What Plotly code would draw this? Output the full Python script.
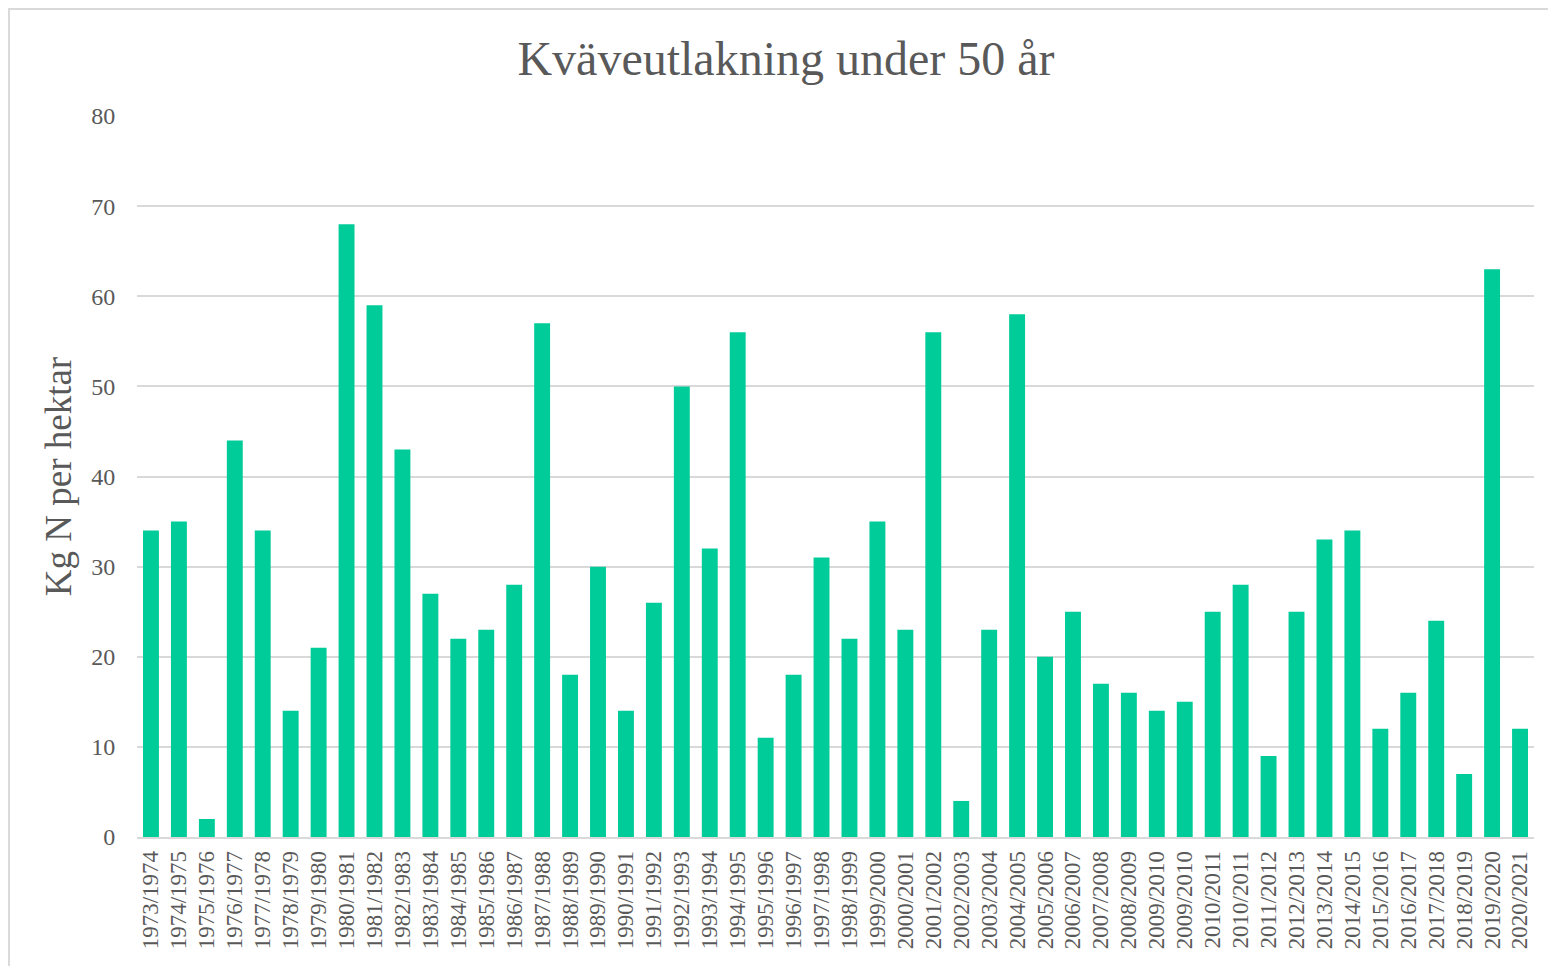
import plotly.graph_objects as go

labels = ["1973/1974","1974/1975","1975/1976","1976/1977","1977/1978","1978/1979","1979/1980",
          "1980/1981","1981/1982","1982/1983","1983/1984","1984/1985","1985/1986","1986/1987",
          "1987/1988","1988/1989","1989/1990","1990/1991","1991/1992","1992/1993","1993/1994",
          "1994/1995","1995/1996","1996/1997","1997/1998","1998/1999","1999/2000","2000/2001",
          "2001/2002","2002/2003","2003/2004","2004/2005","2005/2006","2006/2007","2007/2008",
          "2008/2009","2009/2010","2009/2010","2010/2011","2010/2011","2011/2012","2012/2013",
          "2013/2014","2014/2015","2015/2016","2016/2017","2017/2018","2018/2019","2019/2020",
          "2020/2021"]
values = [34, 35, 2, 44, 34, 14, 21, 68, 59, 43, 27, 22, 23, 28, 57, 18, 30, 14, 26, 50,
          32, 56, 11, 18, 31, 22, 35, 23, 56, 4, 23, 58, 20, 25, 17, 16, 14, 15, 25, 28,
          9, 25, 33, 34, 12, 16, 24, 7, 63, 12]
y_ticks = [0, 10, 20, 30, 40, 50, 60, 70, 80]

positions = list(range(len(labels)))
font = "Liberation Serif, Times New Roman, serif"
grey = "#595959"

fig = go.Figure(go.Bar(x=positions, y=values, marker=dict(color="#00CC99", line=dict(width=0)),
                       hovertext=labels))

fig.update_layout(
    width=1556, height=966,
    paper_bgcolor="white", plot_bgcolor="white",
    margin=dict(l=129, r=30, t=108, b=137),
    bargap=0.43,
    showlegend=False,
    title=dict(text="Kväveutlakning under 50 år", x=0.5, xanchor="center", y=0.948, yanchor="middle",
               font=dict(family=font, size=48, color=grey)),
    font=dict(family=font, color=grey),
    xaxis=dict(tickmode="array", tickvals=positions, ticktext=labels, tickangle=-90,
               tickfont=dict(family=font, size=23, color=grey),
               range=[-0.5, len(labels) - 0.5],
               showline=True, linecolor="#D9D9D9", linewidth=1.5,
               showgrid=False, ticks="outside", ticklen=3, tickcolor="white"),
    yaxis=dict(range=[0, 80], tickvals=y_ticks, showgrid=True, gridcolor="#D9D9D9", gridwidth=1.5,
               tickfont=dict(family=font, size=24, color=grey), zeroline=False,
               ticks="outside", ticklen=16, tickcolor="white",
               title=dict(text="Kg N per hektar", font=dict(family=font, size=37, color=grey), standoff=8)),
    shapes=[dict(type="rect", xref="paper", yref="paper", x0=-0.0916, x1=1.06, y0=-0.25, y1=1.1484,
                 line=dict(color="#D9D9D9", width=2), fillcolor="rgba(0,0,0,0)", layer="below")],
)

fig.write_html("out.html")
